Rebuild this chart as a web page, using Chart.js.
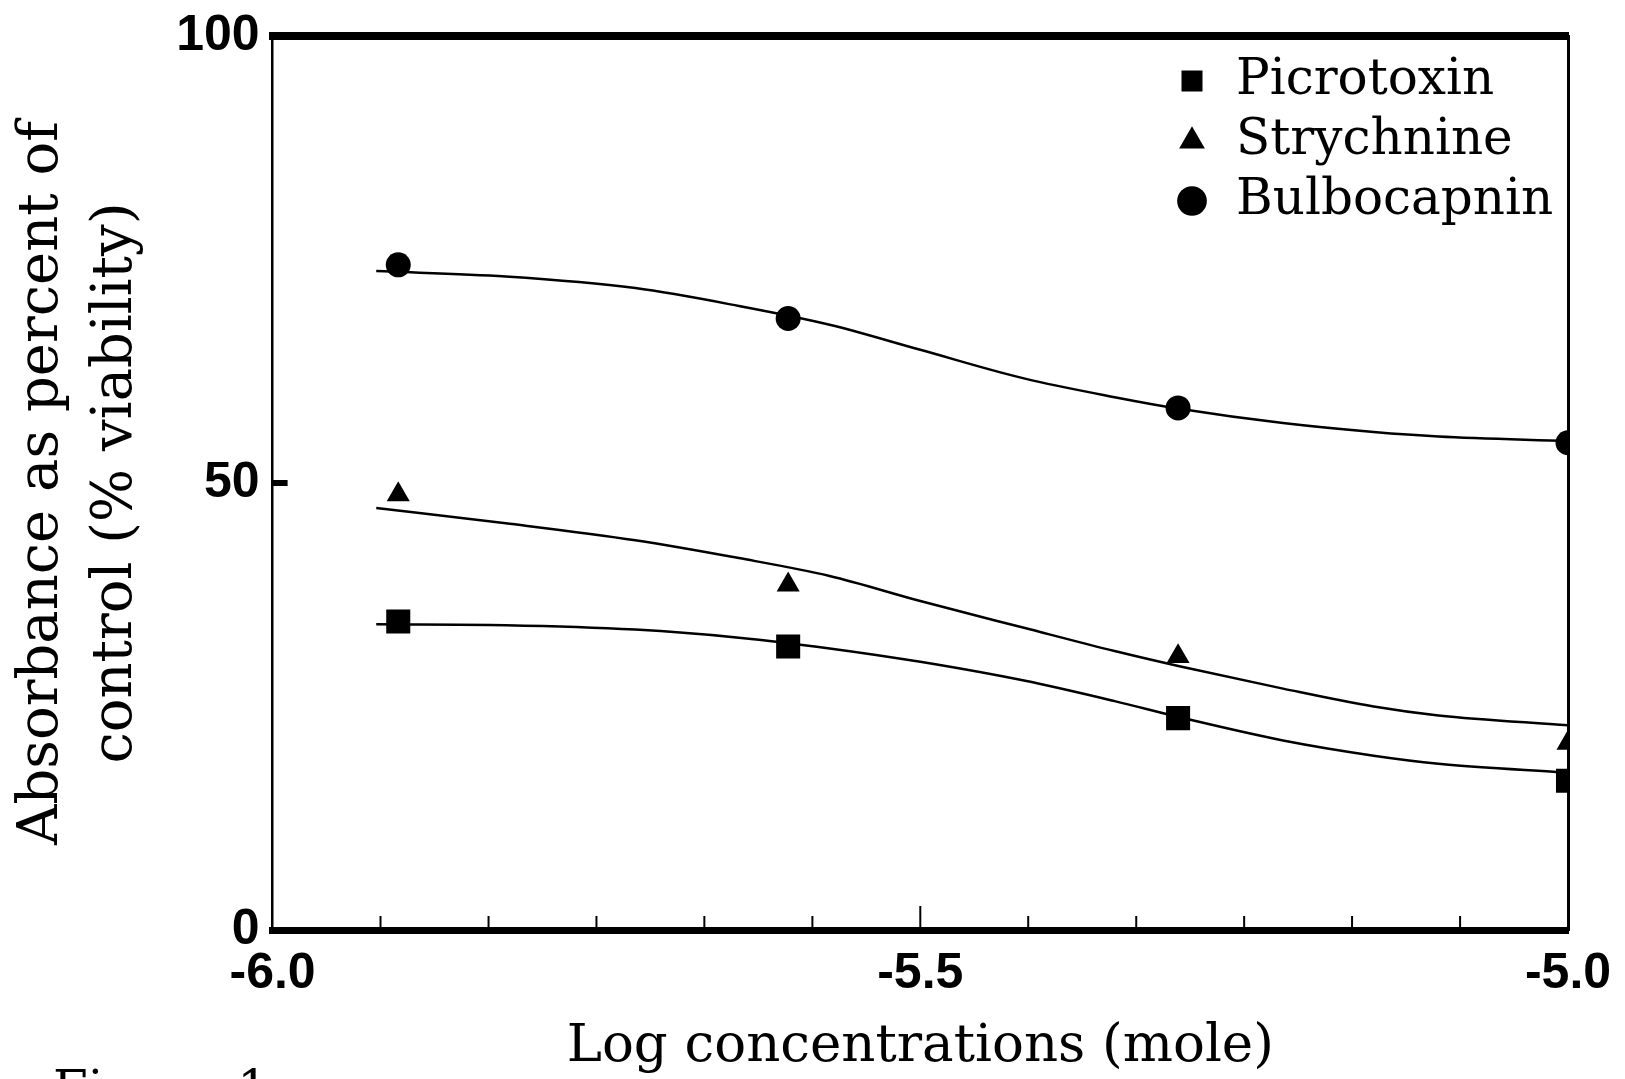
<!DOCTYPE html>
<html><head><meta charset="utf-8">
<script src="https://cdn.jsdelivr.net/npm/chart.js@4/dist/chart.umd.min.js"></script>
<style>html,body{margin:0;padding:0;background:#fff;overflow:hidden}#wrap{width:1625px;height:1079px;position:relative}</style>
</head><body><div id="wrap"><canvas id="c"></canvas></div>
<script>
// ---- data ----
const seriesNames = ['Picrotoxin', 'Strychnine', 'Bulbocapnin'];
const pointStyles = ['rect', 'triangle', 'circle'];
const logConc = [-5.903, -5.602, -5.301, -5.0];
const picrotoxin = [34.5, 31.7, 23.7, 16.7];
const strychnine = [48.7, 38.6, 30.6, 20.9];
const bulbocapnin = [74.4, 68.4, 58.4, 54.5];
// fitted curves
const curveX = [-5.92, -5.82, -5.72, -5.64, -5.57, -5.50, -5.42, -5.35, -5.30, -5.22, -5.15, -5.10, -5.00];
const picrotoxinFit = [34.2, 34.1, 33.6, 32.7, 31.5, 30.0, 27.9, 25.6, 23.8, 21.2, 19.5, 18.6, 17.6];
const strychnineFit = [47.2, 45.5, 43.6, 41.6, 39.6, 36.8, 33.8, 31.2, 29.5, 27.0, 25.0, 24.0, 22.9];
const bulbocapninFit = [73.7, 73.1, 71.8, 69.8, 67.7, 64.9, 61.7, 59.6, 58.3, 56.7, 55.7, 55.2, 54.7];
// ticks
const xTickValues = [-6, -5.9167, -5.8333, -5.75, -5.6667, -5.5833, -5.5, -5.4167, -5.3333, -5.25, -5.1667, -5.0833, -5];
const xTickLabels = ['-6.0', '', '', '', '', '', '-5.5', '', '', '', '', '', '-5.0'];
const yTickValues = [0, 50, 100];
const yTickLabels = ['0', '50', '100'];
const xTitle = 'Log concentrations (mole)';
const yTitle = ['Absorbance as percent of', 'control (% viability)'];
const caption = 'Figure 1';

// ---- styling ----
const textFont = "'DejaVu Serif', serif";
const tickFont = "'Liberation Sans', Arial, sans-serif";
const markerRadius = [17, 13.3, 12.5];

const pts = (xs, ys) => xs.map((x, i) => ({x: x, y: ys[i]}));
const observed = [picrotoxin, strychnine, bulbocapnin];
const fitted = [picrotoxinFit, strychnineFit, bulbocapninFit];

const datasets = [];
seriesNames.forEach((name, i) => {
  datasets.push({
    type: 'scatter', label: name, data: pts(logConc, observed[i]),
    pointStyle: pointStyles[i], pointRadius: markerRadius[i], pointHoverRadius: markerRadius[i],
    backgroundColor: '#000', borderColor: '#000', borderWidth: 0, showLine: false, order: 0
  });
});
seriesNames.forEach((name, i) => {
  datasets.push({
    type: 'line', label: name + ' fit', data: pts(curveX, fitted[i]),
    borderColor: '#000', borderWidth: 2.5, pointRadius: 0, pointHoverRadius: 0,
    cubicInterpolationMode: 'monotone', fill: false, order: 1
  });
});

const legendPlace = {
  id: 'legendPlace',
  afterLayout(chart) {
    const lg = chart.legend; if (!lg) return;
    const a = chart.chartArea;
    lg.left = a.right - 405; lg.top = 46;
    lg.right = lg.left + lg.width; lg.bottom = lg.top + lg.height;
  }
};

const extras = {
  id: 'extras',
  afterDraw(chart) {
    const {ctx, chartArea: a, scales: {x, y}} = chart;
    ctx.save();
    ctx.strokeStyle = '#000';
    ctx.lineWidth = 2;
    xTickValues.forEach((v, i) => {
      if (i === 0 || i === xTickValues.length - 1) return;
      const px = x.getPixelForValue(v);
      const len = xTickLabels[i] ? 24 : 14;
      ctx.beginPath(); ctx.moveTo(px, a.bottom); ctx.lineTo(px, a.bottom - len); ctx.stroke();
    });
    ctx.lineWidth = 6;
    yTickValues.forEach(v => {
      const py = y.getPixelForValue(v);
      ctx.beginPath(); ctx.moveTo(a.left, py); ctx.lineTo(a.left + 15, py); ctx.stroke();
    });
    ctx.fillStyle = '#000';
    ctx.font = "50px " + textFont;
    ctx.textBaseline = 'alphabetic';
    ctx.fillText(caption, 53, 1106);
    ctx.restore();
  }
};

Chart.defaults.animation = false;
new Chart(document.getElementById('c'), {
  data: { datasets: datasets },
  plugins: [legendPlace, extras],
  options: {
    responsive: true, maintainAspectRatio: false, animation: false,
    layout: { padding: { left: 0, right: 57, top: 36, bottom: 0 } },
    plugins: {
      tooltip: { enabled: false },
      legend: {
        position: 'chartArea', align: 'start',
        labels: {
          filter: item => item.datasetIndex < 3,
          usePointStyle: true, boxWidth: 38, boxHeight: 21, padding: 10,
          color: '#000', font: { family: textFont, size: 50 }
        }
      }
    },
    scales: {
      x: {
        type: 'linear', position: 'bottom', min: -6, max: -5,
        afterBuildTicks: s => { s.ticks = xTickValues.map(v => ({value: v})); },
        afterFit: s => { s.height = 149; s.paddingLeft = 0; s.paddingRight = 0; },
        ticks: { autoSkip: false, maxRotation: 0, minRotation: 0, padding: 14, color: '#000',
          font: { family: tickFont, size: 50, weight: 'bold' },
          callback: (v, i) => xTickLabels[i] },
        grid: { display: false, drawTicks: false },
        border: { display: true, color: '#000', width: 7 },
        title: { display: true, text: xTitle, color: '#000', font: { family: textFont, size: 53 }, padding: { top: 0, bottom: 0 } }
      },
      xTop: {
        type: 'linear', position: 'top', min: -6, max: -5,
        afterFit: s => { s.height = 0; s.paddingLeft = 0; s.paddingRight = 0; },
        ticks: { display: false }, grid: { display: false, drawTicks: false },
        border: { display: true, color: '#000', width: 8 }
      },
      y: {
        type: 'linear', position: 'left', min: 0, max: 100,
        afterBuildTicks: s => { s.ticks = yTickValues.map(v => ({value: v})); },
        afterFit: s => { s.width = 272.6; s.paddingTop = 0; s.paddingBottom = 0; },
        ticks: { padding: 13, color: '#000', font: { family: tickFont, size: 50, weight: 'bold' },
          callback: (v, i) => yTickLabels[i] },
        grid: { display: false, drawTicks: false },
        border: { display: true, color: '#000', width: 2.5 },
        title: { display: true, text: yTitle, color: '#000',
          font: { family: textFont, size: 56, lineHeight: 74 / 56 }, padding: { top: 5, bottom: 0 } }
      },
      yRight: {
        type: 'linear', position: 'right', min: 0, max: 100,
        afterFit: s => { s.width = 0; s.paddingTop = 0; s.paddingBottom = 0; },
        ticks: { display: false }, grid: { display: false, drawTicks: false },
        border: { display: true, color: '#000', width: 3 }
      }
    }
  }
});
</script></body></html>
